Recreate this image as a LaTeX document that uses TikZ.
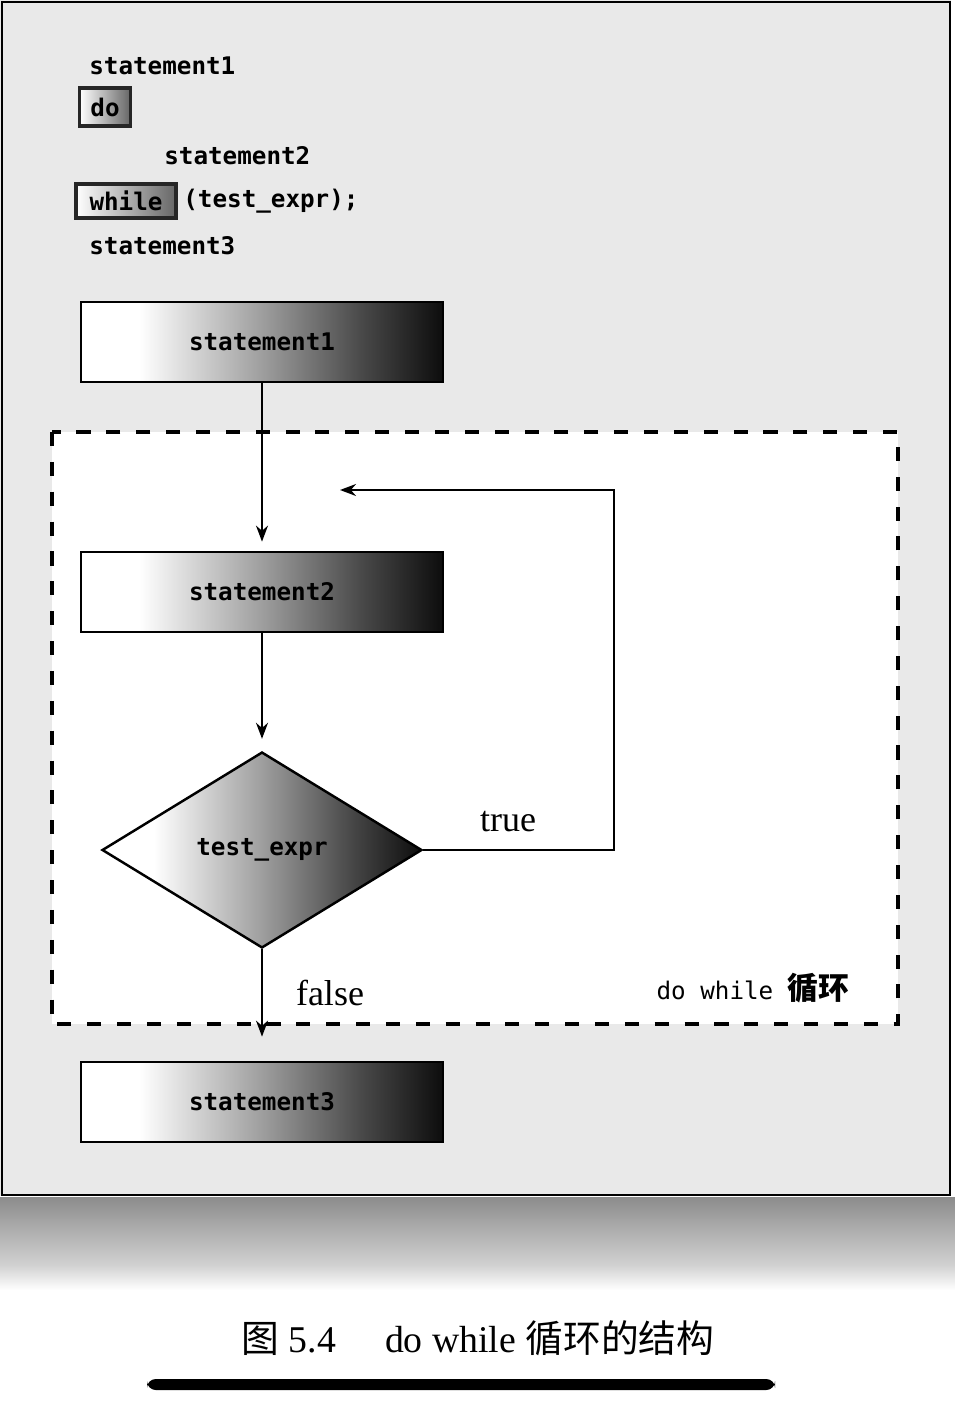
\documentclass[tikz,border=0pt]{standalone}
\usepackage{fontspec}
\setmainfont{Liberation Serif}
\setmonofont{DejaVu Sans Mono}
\newfontfamily\cjk{Noto Sans CJK SC}
\usetikzlibrary{arrows.meta, positioning, shapes.geometric}
\definecolor{panelbg}{HTML}{E9E9E9}
\pgfdeclarehorizontalshading{boxshade}{100bp}{color(0bp)=(white); color(25bp)=(white); color(33bp)=(white); color(50bp)=(black!38); color(64bp)=(black!72); color(75bp)=(black!95); color(100bp)=(black!95)}

\begin{document}
\begin{tikzpicture}[
      x=0.02cm, y=-0.02cm,
      code/.style={font=\fontsize{13.8}{16}\selectfont\ttfamily\bfseries, inner sep=0pt},
      kw/.style={draw=black!85, line width=2pt, left color=white, right color=black!60,
                 inner sep=0pt, font=\fontsize{13.8}{16}\selectfont\ttfamily\bfseries},
      box/.style={rectangle, draw=black, line width=1.6pt, shading=boxshade,
                  minimum width=7.24cm, minimum height=1.6cm,
                  font=\fontsize{13.8}{16}\selectfont\ttfamily\bfseries},
      cond/.style={diamond, draw=black, line width=1.4pt, shading=boxshade,
                   minimum width=6.4cm, minimum height=3.92cm, inner sep=0pt,
                   font=\fontsize{13.8}{16}\selectfont\ttfamily\bfseries},
      lbl/.style={font=\fontsize{20.5}{24}\selectfont, inner sep=0pt},
      arr/.style={-{Stealth[length=3.2mm, width=2.4mm]}, line width=1.1pt}
    ]
      \useasboundingbox (0,0) rectangle (955,1405);
      % panel
      \fill[panelbg] (0,0) rectangle (951,1196);
      \shade[top color=black!45, bottom color=black!18] (0,1197) rectangle (955,1265);
      \shade[top color=black!18, bottom color=white] (0,1265) rectangle (955,1290);
      \draw[line width=1.6pt] (2,2) rectangle (950,1195);
      \fill[white] (52,432) rectangle (898,1024);
      \draw[line width=1.9pt, dash pattern=on 8pt off 9pt] (52,432) rectangle (898,1024);

      % source code
      \node[code, anchor=west] (c1) at (89,66) {statement1};
      \node[kw, minimum width=1.02cm, minimum height=0.76cm] (cdo) at (105,107) {do};
      \node[code, anchor=west] (c2) at (164,156) {statement2};
      \node[kw, minimum width=2cm, minimum height=0.68cm] (cwhile) at (126,201) {while};
      \node[code, right=3pt of cwhile] (cexpr) {(test\_expr);};
      \node[code, anchor=west] (c3) at (89,246) {statement3};

      % flow chart
      \node[box] (s1) at (262,342) {statement1};
      \node[box] (s2) at (262,592) {statement2};
      \node[cond] (test) at (262,850) {test\_expr};
      \node[box] (s3) at (262,1102) {statement3};
      \coordinate (turn) at (614,490);
      \coordinate (back) at (340,490);

      \draw[arr, shorten >=0.18cm] (s1) -- (s2);
      \draw[arr, shorten >=0.24cm] (s2) -- (test);
      \draw[arr, shorten >=0.48cm] (test) -- (s3);
      \draw[arr] (test.east) -| (turn) -- (back);

      \node[lbl] (true) at (508,822) {true};
      \node[lbl] (false) at (330,993) {false};
      \node[inner sep=0pt] (loop) at (753,988) {\fontsize{13.8}{16}\selectfont\ttfamily do while {\cjk\fontsize{17.5}{20}\selectfont\bfseries 循环}};

      % caption
      \node[inner sep=0pt] (cap) at (478,1338) {\fontsize{21.5}{26}\selectfont{\cjk 图} 5.4\hspace{1.3em}do while {\cjk 循环的结构}};
      \fill[rounded corners=5pt] (147,1379) rectangle (775,1390);
    \end{tikzpicture}
\end{document}
